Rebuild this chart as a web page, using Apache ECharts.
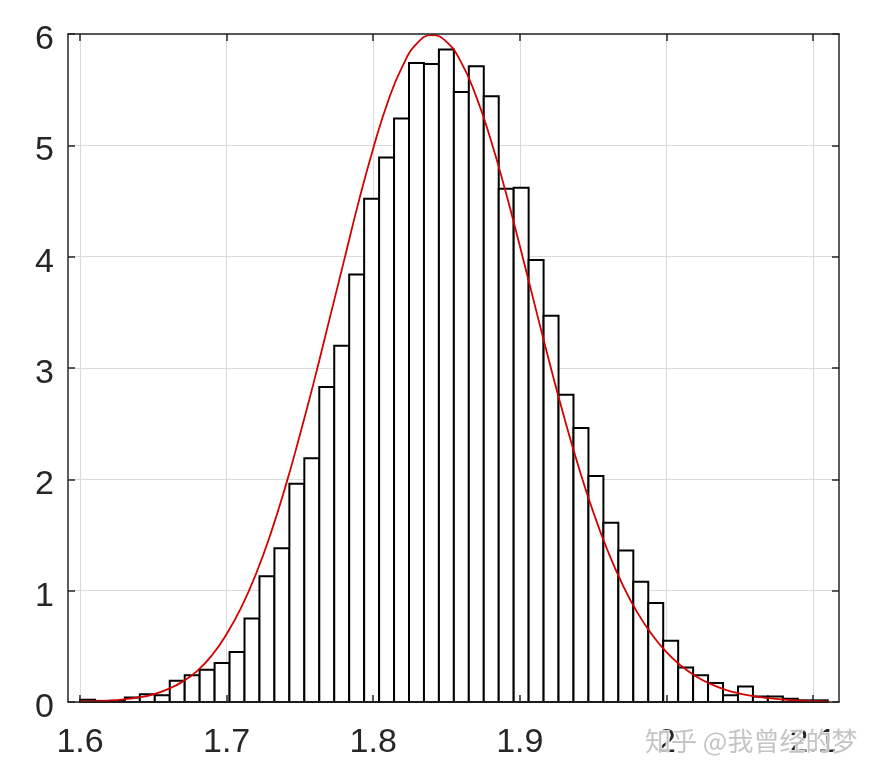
<!DOCTYPE html>
<html>
<head>
<meta charset="utf-8">
<script src="https://cdn.jsdelivr.net/npm/echarts@6/dist/echarts.min.js"></script>
<style>
html,body{margin:0;padding:0;background:#fff;}
#chart{width:886px;height:774px;}
</style>
</head>
<body>
<div id="chart"></div>
<script>
// Histogram bin edges (51 edges -> 50 bins)
const binEdges = [1.6, 1.6102, 1.6204, 1.6306, 1.6408, 1.651, 1.6612, 1.6714, 1.6816, 1.6918,
  1.702, 1.7122, 1.7224, 1.7326, 1.7428, 1.753, 1.7632, 1.7734, 1.7836, 1.7938,
  1.804, 1.8142, 1.8244, 1.8346, 1.8448, 1.855, 1.8652, 1.8754, 1.8856, 1.8958,
  1.906, 1.9162, 1.9264, 1.9366, 1.9468, 1.957, 1.9672, 1.9774, 1.9876, 1.9978,
  2.008, 2.0182, 2.0284, 2.0386, 2.0488, 2.059, 2.0692, 2.0794, 2.0896, 2.0998, 2.11];
// Histogram heights (pdf normalisation)
const binHeights = [0.02, 0.01, 0.01, 0.04, 0.07, 0.06, 0.19, 0.24, 0.29, 0.35,
  0.45, 0.75, 1.13, 1.38, 1.96, 2.19, 2.83, 3.20, 3.84, 4.52,
  4.89, 5.24, 5.74, 5.73, 5.86, 5.48, 5.71, 5.44, 4.61, 4.62,
  3.97, 3.47, 2.76, 2.46, 2.03, 1.61, 1.36, 1.08, 0.89, 0.55,
  0.31, 0.24, 0.17, 0.06, 0.14, 0.05, 0.05, 0.03, 0.015, 0.015];
// Fitted curve
const curveX = [1.60, 1.61, 1.62, 1.63, 1.64, 1.65, 1.66, 1.67, 1.68, 1.69,
  1.70, 1.71, 1.72, 1.73, 1.74, 1.75, 1.76, 1.77, 1.78, 1.79,
  1.80, 1.81, 1.82, 1.83, 1.84, 1.85, 1.86, 1.87, 1.88, 1.89,
  1.90, 1.91, 1.92, 1.93, 1.94, 1.95, 1.96, 1.97, 1.98, 1.99,
  2.00, 2.01, 2.02, 2.03, 2.04, 2.05, 2.06, 2.07, 2.08, 2.09, 2.10, 2.11];
const curveY = [0.004, 0.007, 0.013, 0.024, 0.041, 0.068, 0.115, 0.183, 0.280, 0.420,
  0.610, 0.850, 1.150, 1.510, 1.930, 2.400, 2.900, 3.430, 3.960, 4.490,
  4.972, 5.392, 5.712, 5.917, 5.990, 5.930, 5.745, 5.447, 5.057, 4.598,
  4.096, 3.576, 3.060, 2.569, 2.115, 1.709, 1.356, 1.056, 0.807, 0.607,
  0.448, 0.325, 0.232, 0.163, 0.112, 0.076, 0.051, 0.034, 0.022, 0.014, 0.009, 0.005];
// Axis ticks
const xTickValues = [1.6, 1.7, 1.8, 1.9, 2.0, 2.1];
const xTickLabels = ['1.6', '1.7', '1.8', '1.9', '2', '2.1'];
const yTickLabels = ['0', '1', '2', '3', '4', '5', '6'];
const xMin = 1.5918, xMax = 2.1177, yMin = 0, yMax = 6;

const barData = binHeights.map((h, i) => [binEdges[i], binEdges[i + 1], h]);
const curveData = curveX.map((x, i) => [x, curveY[i]]);

const axisColor = '#262626';
const gridColor = '#dadada';
const font = '"Liberation Sans", Arial, Helvetica, sans-serif';

const chart = echarts.init(document.getElementById('chart'), null, {renderer: 'canvas'});
chart.setOption({
  backgroundColor: '#ffffff',
  animation: false,
  grid: {left: 68, right: 47, top: 34, bottom: 72, containLabel: false},
  xAxis: [
    { // gridlines only
      type: 'value', min: xMin, max: xMax, position: 'bottom', z: 0,
      axisLine: {show: false}, axisLabel: {show: false},
      axisTick: {show: false, customValues: xTickValues},
      splitLine: {show: true, lineStyle: {color: gridColor, width: 1}}
    },
    { // bottom axis with labels
      type: 'value', min: xMin, max: xMax, position: 'bottom', z: 10,
      axisLine: {show: true, onZero: false, lineStyle: {color: axisColor, width: 1.5}},
      axisTick: {show: true, inside: true, length: 7, customValues: xTickValues, lineStyle: {color: axisColor, width: 1.5}},
      axisLabel: {show: true, customValues: xTickValues, margin: 24, color: axisColor,
        fontSize: 34, fontFamily: font,
        formatter: function (v) { const i = xTickValues.findIndex(t => Math.abs(t - v) < 1e-6); return i >= 0 ? xTickLabels[i] : ''; }},
      splitLine: {show: false}
    },
    { // top mirror axis
      type: 'value', min: xMin, max: xMax, position: 'top', z: 10,
      axisLine: {show: true, onZero: false, lineStyle: {color: axisColor, width: 1.5}},
      axisTick: {show: true, inside: true, length: 7, customValues: xTickValues, lineStyle: {color: axisColor, width: 1.5}},
      axisLabel: {show: false}, splitLine: {show: false}
    }
  ],
  yAxis: [
    {
      type: 'value', min: yMin, max: yMax, interval: 1, position: 'left', z: 0,
      axisLine: {show: false}, axisTick: {show: false}, axisLabel: {show: false},
      splitLine: {show: true, lineStyle: {color: gridColor, width: 1}}
    },
    {
      type: 'value', min: yMin, max: yMax, interval: 1, position: 'left', z: 10,
      axisLine: {show: true, onZero: false, lineStyle: {color: axisColor, width: 1.5}},
      axisTick: {show: true, inside: true, length: 7, lineStyle: {color: axisColor, width: 1.5}},
      axisLabel: {show: true, margin: 14, color: axisColor, fontSize: 34, fontFamily: font,
        verticalAlign: 'top', lineHeight: 11,
        formatter: function (v) { return yTickLabels[Math.round(v)]; }},
      splitLine: {show: false}
    },
    {
      type: 'value', min: yMin, max: yMax, interval: 1, position: 'right', z: 10,
      axisLine: {show: true, onZero: false, lineStyle: {color: axisColor, width: 1.5}},
      axisTick: {show: true, inside: true, length: 7, lineStyle: {color: axisColor, width: 1.5}},
      axisLabel: {show: false}, splitLine: {show: false}
    }
  ],
  series: [
    {
      type: 'custom', xAxisIndex: 1, yAxisIndex: 1, z: 2,
      data: barData,
      encode: {x: [0, 1], y: 2},
      renderItem: function (params, api) {
        const p0 = api.coord([api.value(0), api.value(2)]);
        const p1 = api.coord([api.value(1), 0]);
        return {
          type: 'rect',
          shape: {x: p0[0], y: p0[1], width: p1[0] - p0[0], height: p1[1] - p0[1]},
          style: {fill: '#ffffff', stroke: '#000000', lineWidth: 2}
        };
      }
    },
    {
      type: 'line', xAxisIndex: 1, yAxisIndex: 1, z: 3,
      data: curveData, smooth: true, showSymbol: false,
      lineStyle: {color: '#d40000', width: 1.8}
    }
  ],
  graphic: [
    {
      type: 'text', left: 644, top: 727, z: 100,
      style: {text: '知乎 @我曾经的梦', fontSize: 26, fontFamily: '"Noto Sans CJK SC", sans-serif',
        fill: 'rgba(190,190,190,0.9)', stroke: 'rgba(255,255,255,0.85)', lineWidth: 2}
    }
  ]
});
</script>
</body>
</html>
